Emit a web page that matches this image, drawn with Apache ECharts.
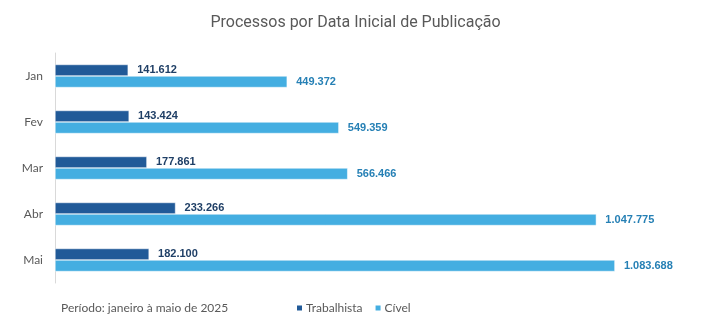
<!DOCTYPE html>
<html><head><meta charset="utf-8">
<script src="https://cdn.jsdelivr.net/npm/echarts@6/dist/echarts.min.js"></script>
<style>html,body{margin:0;padding:0;background:#fff}#c{width:711px;height:327px}</style>
</head><body><div id="c"></div>
<script>
const categories = ['Jan', 'Fev', 'Mar', 'Abr', 'Mai'];
const trabalhista = [141612, 143424, 177861, 233266, 182100];
const civel = [449372, 549359, 566466, 1047775, 1083688];
const seriesNames = ['Trabalhista', 'Cível'];

const fmt = v => String(v).replace(/\B(?=(\d{3})+(?!\d))/g, '.');
const chart = echarts.init(document.getElementById('c'));
chart.setOption({
  animation: false,
  title: [{
    text: 'Processos por Data Inicial de Publicação',
    left: 'center', top: 10,
    textStyle: { fontFamily: 'Roboto', fontSize: 16, fontWeight: 'normal', color: '#595959' }
  }, {
    text: 'Período: janeiro à maio de 2025',
    left: 56, top: 297,
    textStyle: { fontFamily: 'Lato', fontSize: 12, fontWeight: 'normal', color: '#595959' }
  }],
  legend: {
    data: seriesNames,
    left: 290, top: 297,
    itemWidth: 7, itemHeight: 7, itemGap: 11,
    icon: 'rect',
    textStyle: { fontFamily: 'Lato', fontSize: 12, color: '#595959', padding: [0, 0, 0, -2] }
  },
  grid: { left: 55, top: 53, width: 620, height: 230, containLabel: false },
  xAxis: {
    type: 'value', min: 0, max: 1200000,
    show: false
  },
  yAxis: {
    type: 'category', data: categories, inverse: true,
    axisLine: { show: true, lineStyle: { color: '#d9d9d9', width: 1 } },
    axisTick: { show: false },
    axisLabel: { fontFamily: 'Lato', fontSize: 12, color: '#595959', margin: 12 }
  },
  series: [{
    name: seriesNames[0], type: 'bar', data: trabalhista,
    barWidth: 11.5, barGap: '0%',
    itemStyle: { color: '#215A98', borderColor: '#ffffff', borderWidth: 0.5 },
    label: { show: true, position: 'right', distance: 9, formatter: p => fmt(p.value),
      fontFamily: 'Liberation Sans', fontSize: 11, fontWeight: 'bold', color: '#1F3F66' }
  }, {
    name: seriesNames[1], type: 'bar', data: civel,
    barWidth: 11.5, barGap: '0%',
    itemStyle: { color: '#44AEE1', borderColor: '#ffffff', borderWidth: 0.5 },
    label: { show: true, position: 'right', distance: 9, formatter: p => fmt(p.value),
      fontFamily: 'Liberation Sans', fontSize: 11, fontWeight: 'bold', color: '#2680B5' }
  }]
});
</script></body></html>
